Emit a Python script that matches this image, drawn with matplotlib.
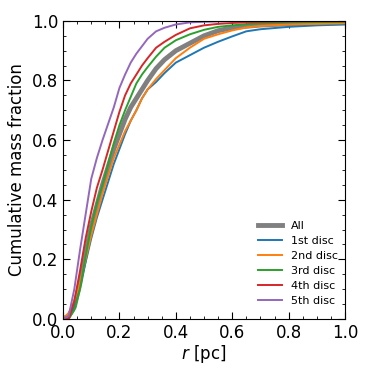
import matplotlib
matplotlib.use("Agg")
import matplotlib.pyplot as plt
from matplotlib.ticker import AutoMinorLocator

r = [0.0, 0.02, 0.04, 0.06, 0.08, 0.10, 0.12, 0.14, 0.16, 0.18, 0.20, 0.22, 0.24,
     0.26, 0.28, 0.30, 0.33, 0.36, 0.40, 0.45, 0.50, 0.55, 0.60, 0.65, 0.70, 0.80, 0.90, 1.0]

frac_all = [0.0, 0.01, 0.04, 0.12, 0.22, 0.31, 0.38, 0.45, 0.51, 0.57, 0.62, 0.67, 0.71,
            0.74, 0.77, 0.80, 0.84, 0.87, 0.90, 0.925, 0.95, 0.967, 0.977, 0.982, 0.986, 0.99, 0.992, 0.994]
frac_1st = [0.0, 0.0, 0.04, 0.11, 0.19, 0.27, 0.34, 0.40, 0.46, 0.52, 0.57, 0.62, 0.665,
            0.70, 0.74, 0.77, 0.795, 0.825, 0.86, 0.885, 0.91, 0.93, 0.948, 0.965, 0.972, 0.98, 0.985, 0.988]
frac_2nd = [0.0, 0.02, 0.06, 0.12, 0.20, 0.28, 0.35, 0.42, 0.48, 0.54, 0.585, 0.63, 0.665,
            0.70, 0.74, 0.77, 0.805, 0.835, 0.875, 0.91, 0.94, 0.955, 0.968, 0.978, 0.983, 0.988, 0.99, 0.992]
frac_3rd = [0.0, 0.0, 0.03, 0.10, 0.21, 0.31, 0.39, 0.45, 0.52, 0.59, 0.65, 0.70, 0.745,
            0.79, 0.82, 0.845, 0.88, 0.91, 0.935, 0.955, 0.97, 0.98, 0.985, 0.989, 0.992, 0.995, 0.996, 0.997]
frac_4th = [0.0, 0.0, 0.06, 0.16, 0.27, 0.36, 0.44, 0.50, 0.565, 0.63, 0.695, 0.75, 0.79,
            0.82, 0.85, 0.875, 0.91, 0.93, 0.953, 0.975, 0.985, 0.99, 0.993, 0.995, 0.996, 0.998, 0.999, 0.999]
frac_5th = [0.0, 0.01, 0.10, 0.23, 0.35, 0.47, 0.54, 0.60, 0.655, 0.71, 0.775, 0.82, 0.86,
            0.89, 0.915, 0.94, 0.965, 0.977, 0.988, 0.995, 0.997, 0.998, 0.999, 1.0, 1.0, 1.0, 1.0, 1.0]

labels = ["1st disc", "2nd disc", "3rd disc", "4th disc", "5th disc"]
series = [frac_1st, frac_2nd, frac_3rd, frac_4th, frac_5th]
colors = ["#1f77b4", "#ff7f0e", "#2ca02c", "#d62728", "#9467bd"]

fig = plt.figure(figsize=(3.73, 3.73), dpi=100)
ax = fig.add_axes([0.169, 0.145, 0.756, 0.799])

ax.plot(r, frac_all, color="grey", lw=3.5, label="All")
for lab, s, c in zip(labels, series, colors):
    ax.plot(r, s, color=c, lw=1.4, label=lab)

ax.set_xlim(0, 1)
ax.set_ylim(0, 1)
ax.set_xticks([0, 0.2, 0.4, 0.6, 0.8, 1.0])
ax.set_yticks([0, 0.2, 0.4, 0.6, 0.8, 1.0])
ax.xaxis.set_minor_locator(AutoMinorLocator(4))
ax.yaxis.set_minor_locator(AutoMinorLocator(4))
ax.tick_params(which="both", direction="in", top=True, right=True, labelsize=12)
ax.tick_params(which="major", length=5)
ax.tick_params(which="minor", length=2.5)
ax.set_xlabel(r"$r$ [pc]", fontsize=12, labelpad=1)
ax.set_ylabel("Cumulative mass fraction", fontsize=12)
ax.legend(loc="lower right", bbox_to_anchor=(1.02, 0.0), frameon=False, fontsize=8,
          handlelength=2.2, labelspacing=0.45, borderaxespad=0.75)

fig.savefig("out.png", dpi=100)
